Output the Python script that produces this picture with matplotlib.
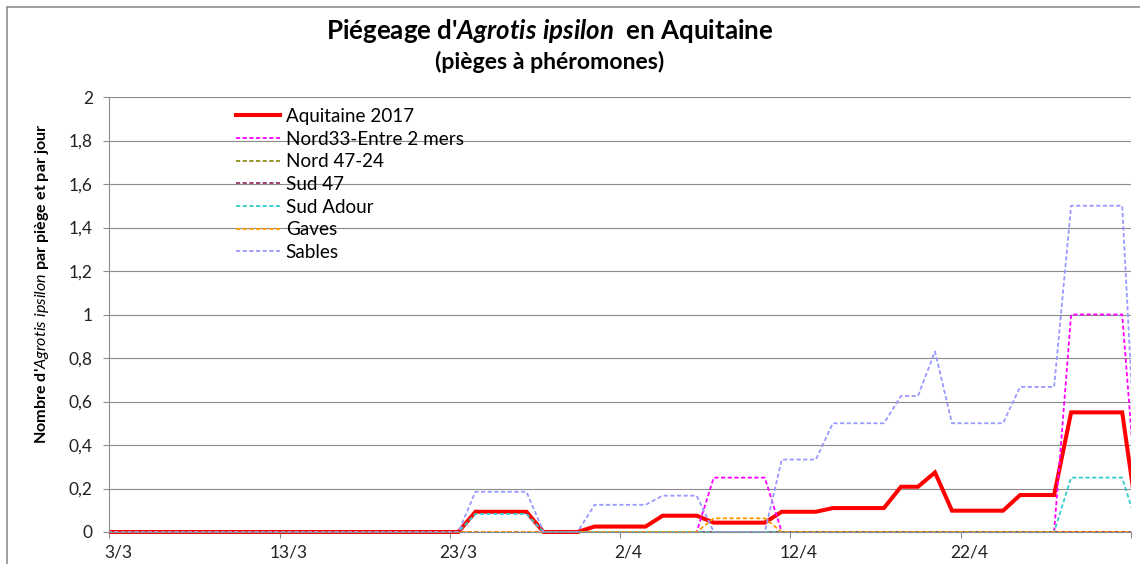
import pandas as pd
import matplotlib
matplotlib.use('Agg')
import matplotlib.pyplot as plt
from matplotlib.ticker import FixedLocator, FuncFormatter
from matplotlib.patches import Rectangle
from matplotlib.transforms import Bbox, TransformedBbox

plt.rcParams['font.family'] = ['Lato', 'DejaVu Sans']
plt.rcParams['mathtext.fontset'] = 'custom'
plt.rcParams['mathtext.rm'] = 'Lato'
plt.rcParams['mathtext.it'] = 'Lato:italic'
plt.rcParams['mathtext.bf'] = 'Lato:bold'
plt.rcParams['mathtext.bfit'] = 'Lato:italic:bold'
plt.rcParams['lines.scale_dashes'] = False

# daily categories, 2/3 -> 2/5 (first and last fall outside the visible axis)
jours = pd.date_range('2017-03-02', '2017-05-02', freq='D')
tick_labels = ['3/3', '13/3', '23/3', '2/4', '12/4', '22/4']

aquitaine = [0] * 22 + [0.093] * 4 + [0] * 3 + [0.025] * 4 + [0.075] * 3 + [0.043] * 4 \
    + [0.093] * 3 + [0.11] * 4 + [0.208] * 2 + [0.274] + [0.098] * 4 + [0.17] * 3 + [0.55] * 4 + [0]
nord33 = [0] * 36 + [0.25] * 4 + [0] * 17 + [1.0] * 4 + [0]
nord47 = [0] * 62
sud47 = [0] * 62
sud_adour = [0] * 22 + [0.083] * 4 + [0] * 31 + [0.25] * 4 + [0]
gaves = [0] * 36 + [0.063] * 4 + [0] * 22
sables = [0] * 22 + [0.185] * 4 + [0] * 3 + [0.125] * 4 + [0.167] * 3 + [0] * 4 \
    + [0.333] * 3 + [0.5] * 4 + [0.625] * 2 + [0.83] + [0.5] * 4 + [0.667] * 3 + [1.5] * 4 + [0]

series = [
    ('Aquitaine 2017', aquitaine, '#FF0000'),
    ('Nord33-Entre 2 mers', nord33, '#FF00FF'),
    ('Nord 47-24', nord47, '#8C8C1A'),
    ('Sud 47', sud47, '#993366'),
    ('Sud Adour', sud_adour, '#33CCCC'),
    ('Gaves', gaves, '#FF9900'),
    ('Sables', sables, '#9999FF'),
]

W, H = 1140, 564
fig = plt.figure(figsize=(W / 100, H / 100), dpi=100)
ax = fig.add_axes([109.5 / W, (H - 532) / H, (1130.7 - 109.5) / W, (532 - 97) / H])

x = list(range(-1, len(jours) - 1))
clip = TransformedBbox(Bbox([[0, -0.05], [1, 1.05]]), ax.transAxes)
for name, vals, col in series:
    if name == 'Aquitaine 2017':
        ln, = ax.plot(x, vals, color=col, lw=2.9, label=name, solid_joinstyle='miter')
    else:
        ln, = ax.plot(x, vals, color=col, lw=1.3, dashes=(3, 1.8), label=name)
    ln.set_clip_box(clip)

ax.set_xlim(-0.5, 59.5)
ax.set_ylim(0, 2)
ax.set_yticks([i / 5 for i in range(11)])
ax.yaxis.set_major_formatter(FuncFormatter(lambda v, p: ('%g' % round(v, 1)).replace('.', ',')))
ax.grid(axis='y', color='#8C8C8C', lw=0.8)
ax.set_axisbelow(True)

ax.xaxis.set_major_locator(FixedLocator([-0.5 + 10 * k for k in range(7)]))
ax.xaxis.set_major_formatter(FuncFormatter(lambda v, p: ''))
ax.xaxis.set_minor_locator(FixedLocator([10 * k for k in range(6)]))
ax.set_xticklabels(tick_labels, minor=True)
ax.tick_params(axis='x', which='minor', length=0, pad=9, labelsize=12.5, labelcolor='#222222')
ax.tick_params(axis='x', which='major', length=4, color='#8C8C8C')
ax.tick_params(axis='y', length=4, pad=8, color='#8C8C8C', labelsize=12.5, labelcolor='#222222')

for s in ['top', 'right']:
    ax.spines[s].set_visible(False)
for s in ['left', 'bottom']:
    ax.spines[s].set_color('#8C8C8C')
    ax.spines[s].set_linewidth(0.8)

ax.legend(loc='upper left', bbox_to_anchor=(236 / W, 1 - 108 / H), bbox_transform=fig.transFigure,
          frameon=False, fontsize=13.6, handlelength=2.35, handletextpad=0.28, labelspacing=0.3,
          borderpad=0, borderaxespad=0)

fig.text(550 / W, 1 - 31 / H, r"Piégeage d'$\mathbfit{Agrotis\ ipsilon}$  en Aquitaine",
         ha='center', va='center', fontsize=18.6, fontweight='bold')
fig.text(550 / W, 1 - 62 / H, '(pièges à phéromones)', ha='center', va='center',
         fontsize=16.6, fontweight='bold')
fig.text(42 / W, 1 - 284 / H, r"Nombre d'$\mathit{Agrotis\ ipsilon}$ par piège et par jour",
         rotation=90, ha='center', va='center', fontsize=11.6, fontweight='bold')

fig.patches.append(Rectangle((7 / W, -0.1), 1.2, 1.1 - 7 / H, transform=fig.transFigure,
                             fill=False, edgecolor='#8C8C8C', lw=1.2))

fig.savefig('out.png', dpi=100)
